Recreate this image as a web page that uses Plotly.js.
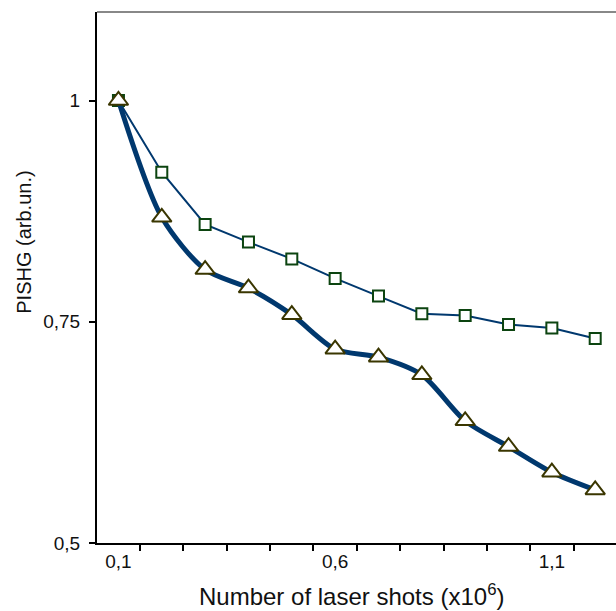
<!DOCTYPE html>
<html>
<head>
<meta charset="utf-8">
<script src="https://cdn.plot.ly/plotly-3.0.1.min.js"></script>
<style>html,body{margin:0;padding:0;background:#fff;}#chart{width:616px;height:611px;}</style>
</head>
<body>
<div id="chart"></div>
<script>
// Data
var shots = [0.1, 0.2, 0.3, 0.4, 0.5, 0.6, 0.7, 0.8, 0.9, 1.0, 1.1, 1.2];
var seriesSquares = [1.0, 0.919, 0.860, 0.840, 0.821, 0.799, 0.779, 0.759, 0.757, 0.747, 0.743, 0.731];
var seriesTriangles = [1.0, 0.868, 0.809, 0.788, 0.758, 0.719, 0.710, 0.690, 0.638, 0.609, 0.580, 0.560];
var xTickVals = [0.1, 0.6, 1.1];
var xTickText = ["0,1", "0,6", "1,1"];
var yTickVals = [0.5, 0.75, 1];
var yTickText = ["0,5", "0,75", "1"];

var FONT = "Liberation Sans, Arial, Helvetica, sans-serif";
var lineBlue = "#00386e";

var traces = [
  {
    x: shots, y: seriesSquares, type: "scatter", mode: "lines+markers",
    line: {color: lineBlue, width: 2},
    marker: {symbol: "square", size: 11, color: "#ffffff", line: {color: "#0c4410", width: 2}},
    hoverinfo: "skip"
  },
  {
    x: shots, y: seriesTriangles, type: "scatter", mode: "lines+markers",
    line: {color: lineBlue, width: 5, shape: "spline", smoothing: 0.8},
    marker: {symbol: "triangle-up", size: 17, color: "#ffffff", line: {color: "#3a3600", width: 2}},
    hoverinfo: "skip"
  }
];

var layout = {
  width: 616, height: 611,
  margin: {l: 97, r: 0, t: 12, b: 68, pad: 0},
  paper_bgcolor: "#ffffff", plot_bgcolor: "#ffffff",
  showlegend: false,
  font: {family: FONT, color: "#111", size: 19},
  xaxis: {
    range: [0.0505, 1.248],
    tickmode: "array", tickvals: xTickVals, ticktext: xTickText,
    ticks: "", tickfont: {size: 19, family: FONT, color: "#111"},
    showline: true, linecolor: "#000", linewidth: 2,
    showgrid: false, zeroline: false,
    minor: {tick0: 0.15, dtick: 0.1, ticks: "outside", ticklen: 6, tickwidth: 2, tickcolor: "#000", showgrid: false}
  },
  yaxis: {
    range: [0.5, 1.1],
    tickmode: "array", tickvals: yTickVals, ticktext: yTickText,
    ticks: "outside", ticklen: 6, tickwidth: 2, tickcolor: "#000",
    ticklabelstandoff: 5,
    tickfont: {size: 19, family: FONT, color: "#111"},
    showline: true, linecolor: "#000", linewidth: 2,
    showgrid: false, zeroline: false
  },
  shapes: [
    {type: "line", xref: "paper", yref: "paper", x0: 0, x1: 1, y0: 1, y1: 1,
     line: {color: "#888888", width: 2}}
  ],
  annotations: [
    {text: "PISHG (arb.un.)", xref: "paper", yref: "paper", x: -0.141, y: 0.567,
     xanchor: "center", yanchor: "middle", textangle: -90, showarrow: false,
     font: {size: 20, family: FONT, color: "#111"}},
    {text: "Number of laser shots (x10<sup>6</sup>)", xref: "paper", yref: "paper",
     x: 0.491, y: -0.097, xanchor: "center", yanchor: "middle", showarrow: false,
     font: {size: 24, family: FONT, color: "#111"}}
  ]
};

Plotly.newPlot("chart", traces, layout, {staticPlot: true, displayModeBar: false});
</script>
</body>
</html>
